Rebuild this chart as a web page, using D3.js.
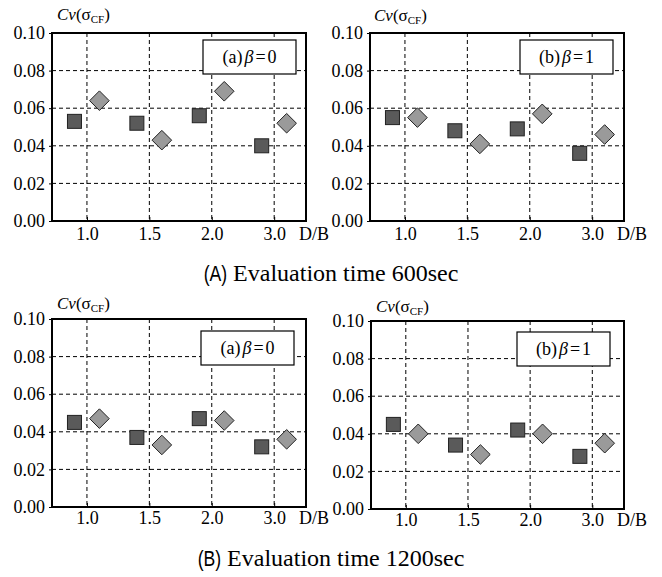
<!DOCTYPE html>
<html>
<head>
<meta charset="utf-8">
<script src="https://cdn.jsdelivr.net/npm/d3@7"></script>
<style>
  html, body { margin: 0; padding: 0; background: #fff; }
  svg { display: block; }
</style>
</head>
<body>
<svg id="chart" width="662" height="577"></svg>
<script>
// ---- data ----
const categories = ["1.0", "1.5", "2.0", "3.0"];
const yTicks = [0, 0.02, 0.04, 0.06, 0.08, 0.10];
const squares_600_b0  = [0.053, 0.052, 0.056, 0.040];
const diamonds_600_b0 = [0.064, 0.043, 0.069, 0.052];
const squares_600_b1  = [0.055, 0.048, 0.049, 0.036];
const diamonds_600_b1 = [0.055, 0.041, 0.057, 0.046];
const squares_1200_b0  = [0.045, 0.037, 0.047, 0.032];
const diamonds_1200_b0 = [0.047, 0.033, 0.046, 0.036];
const squares_1200_b1  = [0.045, 0.034, 0.042, 0.028];
const diamonds_1200_b1 = [0.040, 0.029, 0.040, 0.035];
const panelLabels = ["(a)", "(b)"];
const betaValues = ["0", "1"];
const captionTags = ["(A)", "(B)"];
const captionTexts = ["Evaluation time 600sec", "Evaluation time 1200sec"];

const SERIF = '"Liberation Serif"';
const SANS = '"Liberation Sans"';

// ---- layout ----
const svg = d3.select("#chart");
const panels = [
  {sq: squares_600_b0,  dm: diamonds_600_b0,  lab: 0, L: 52,  R: 306, T: 33,  B: 221, tx: 5, ty: 13, bx: 103, by: 7,  tp: 6},
  {sq: squares_600_b1,  dm: diamonds_600_b1,  lab: 1, L: 370, R: 624, T: 33,  B: 221, tx: 4, ty: 12, bx: 104, by: 7,  tp: 6},
  {sq: squares_1200_b0, dm: diamonds_1200_b0, lab: 0, L: 52,  R: 306, T: 319, B: 507, tx: 5, ty: 10, bx: 105, by: 12, tp: 4},
  {sq: squares_1200_b1, dm: diamonds_1200_b1, lab: 1, L: 371, R: 624, T: 321, B: 509, tx: 5, ty: 9,  bx: 107, by: 11, tp: 4}
];

panels.forEach(p => {
  const g = svg.append("g");
  const x = d3.scaleLinear().domain([-0.56, 3.51]).range([p.L, p.R]);
  const y = d3.scaleLinear().domain([0, 0.10]).range([p.B, p.T]);
  const idx = categories.map((c, i) => i);

  // grid
  g.append("g").selectAll("line").data(idx).join("line")
    .attr("x1", d => x(d)).attr("x2", d => x(d))
    .attr("y1", p.T).attr("y2", p.B)
    .attr("stroke", "#000").attr("stroke-width", 1).attr("stroke-dasharray", "4,3");
  g.append("g").selectAll("line").data(yTicks.slice(1, -1)).join("line")
    .attr("x1", p.L).attr("x2", p.R)
    .attr("y1", d => y(d)).attr("y2", d => y(d))
    .attr("stroke", "#000").attr("stroke-width", 1).attr("stroke-dasharray", "4,3");

  // y axis
  const ya = g.append("g").attr("transform", `translate(${p.L},0)`)
    .call(d3.axisLeft(y).tickValues(yTicks).tickFormat(d3.format(".2f")).tickSize(3).tickPadding(4));
  ya.attr("font-family", SERIF).attr("font-size", 18);
  ya.select(".domain").remove();
  ya.selectAll("text").style("font-size", "18px").style("font-family", SERIF).attr("fill", "#000");
  ya.selectAll("line").attr("stroke", "#000");

  // x axis
  const xa = g.append("g").attr("transform", `translate(0,${p.B})`)
    .call(d3.axisBottom(x).tickValues(idx).tickFormat(i => categories[i]).tickSize(-4).tickPadding(p.tp));
  xa.attr("font-family", SERIF).attr("font-size", 18);
  xa.select(".domain").remove();
  xa.selectAll("text").style("font-size", "18px").style("font-family", SERIF).attr("fill", "#000");
  xa.selectAll("line").attr("stroke", "#000");

  // D/B
  g.append("text").attr("x", p.R + 8).attr("y", p.B + p.tp + 12.8)
    .attr("text-anchor", "middle").style("font-size", "18px").style("font-family", SERIF).text("D/B");

  // frame
  g.append("rect").attr("x", p.L).attr("y", p.T).attr("width", p.R - p.L).attr("height", p.B - p.T)
    .attr("fill", "none").attr("stroke", "#000").attr("stroke-width", 2);

  // legend box
  const bw = 93, bh = 34;
  const bx0 = p.R - p.bx, by0 = p.T + p.by;
  g.append("rect").attr("x", bx0).attr("y", by0).attr("width", bw).attr("height", bh)
    .attr("fill", "#fff").attr("stroke", "#000").attr("stroke-width", 1.2);
  const lt = g.append("text").attr("x", bx0 + bw / 2).attr("y", by0 + 23)
    .attr("text-anchor", "middle").style("font-size", "18px").style("font-family", SERIF);
  lt.append("tspan").text(panelLabels[p.lab]);
  lt.append("tspan").attr("dx", 2).style("font-style", "italic").text("β");
  lt.append("tspan").attr("dx", 2).text("=");
  lt.append("tspan").attr("dx", 2).text(betaValues[p.lab]);

  // y title
  const tt = g.append("text").attr("x", p.L + p.tx).attr("y", p.T - p.ty)
    .style("font-size", "17px").style("font-family", SERIF);
  tt.append("tspan").style("font-style", "italic").text("Cv");
  tt.append("tspan").text("(σ");
  tt.append("tspan").style("font-size", "11px").attr("dy", 3).text("CF");
  tt.append("tspan").attr("dy", -3).text(")");

  // squares
  const s = 14;
  g.append("g").selectAll("rect").data(p.sq).join("rect")
    .attr("x", (d, i) => x(i - 0.2) - s / 2).attr("y", d => y(d) - s / 2)
    .attr("width", s).attr("height", s)
    .attr("fill", "#5a5a5a").attr("stroke", "#222").attr("stroke-width", 1);
  // diamonds
  const h = 9.8;
  g.append("g").selectAll("path").data(p.dm).join("path")
    .attr("d", (d, i) => {
      const cx = x(i + 0.2), cy = y(d);
      return `M${cx},${cy - h}L${cx + h},${cy}L${cx},${cy + h}L${cx - h},${cy}Z`;
    })
    .attr("fill", "#9a9a9a").attr("stroke", "#222").attr("stroke-width", 1);
});

// captions
[281, 566].forEach((yy, k) => {
  const cg = svg.append("g");
  const tag = cg.append("text").attr("y", yy).style("font-family", SANS).style("font-size", "22px").text(captionTags[k]);
  const body = cg.append("text").attr("y", yy).style("font-family", SERIF).style("font-size", "24px").text(captionTexts[k]);
  const sx = 0.8;
  const tagW = tag.node().getComputedTextLength() * sx;
  const bodyW = body.node().getComputedTextLength();
  const gap = 6;
  const start = 331 - (tagW + gap + bodyW) / 2;
  tag.attr("transform", `translate(${start},0) scale(${sx},1)`).attr("x", 0);
  body.attr("x", start + tagW + gap);
});
</script>
</body>
</html>
